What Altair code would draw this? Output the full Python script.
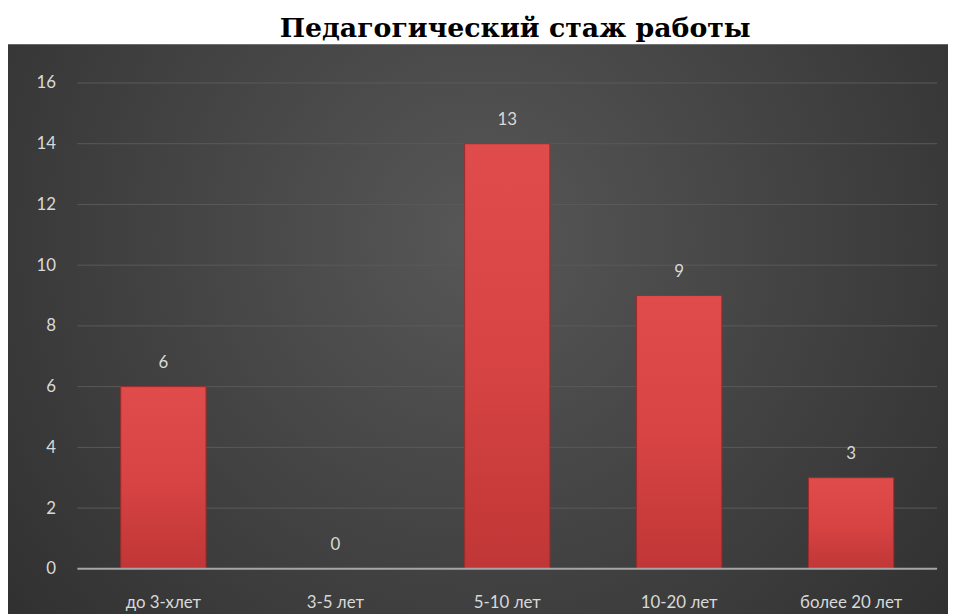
import altair as alt
import pandas as pd

categories = ["до 3-хлет", "3-5 лет", "5-10 лет", "10-20 лет", "более 20 лет"]
bar_values = [6, 0, 14, 9, 3]
label_texts = ["6", "0", "13", "9", "3"]
y_ticks = [0, 2, 4, 6, 8, 10, 12, 14, 16]
title_text = "Педагогический стаж работы"

df = pd.DataFrame({"cat": categories, "val": bar_values, "lbl": label_texts})
grid_df = pd.DataFrame({"t": y_ticks[1:]})

W, H = 867, 490
PL, PR, PT, PB = 70, 11, 73, 50

bg = alt.Chart(pd.DataFrame({"a": [0]})).mark_rect(
    clip=False,
    fill=alt.Gradient(
        gradient="radial",
        x1=0.5, y1=0.4, x2=0.5, y2=0.4, r1=0, r2=0.75,
        stops=[alt.GradientStop(color="#575757", offset=0),
               alt.GradientStop(color="#2a2a2a", offset=1)],
    ),
).encode(
    x=alt.value(-PL), x2=alt.value(W + PR),
    y=alt.value(-39), y2=alt.value(H + PB),
)

grid = alt.Chart(grid_df).mark_rule(color="#5a5a5a", strokeWidth=1).encode(
    y=alt.Y("t:Q", scale=alt.Scale(domain=[0, 16], nice=False))
)

xenc = alt.X("cat:N", sort=categories,
             scale=alt.Scale(paddingInner=0, paddingOuter=0),
             axis=alt.Axis(title=None, labelAngle=0, labelColor="#d9d9d9",
                           labelFont="Lato", labelFontSize=17, labelPadding=26,
                           ticks=False, domain=False, grid=False, zindex=1))
yenc = alt.Y("val:Q", scale=alt.Scale(domain=[0, 16], nice=False),
             axis=alt.Axis(title=None, values=y_ticks, labelColor="#d9d9d9",
                           labelFont="Lato", labelFontSize=17, labelPadding=22,
                           ticks=False, domain=False, grid=False, zindex=1))

bars = alt.Chart(df).mark_bar(
    size=86,
    fill=alt.Gradient(
        gradient="linear", x1=0, y1=0, x2=0, y2=1,
        stops=[alt.GradientStop(color="#e04c4c", offset=0),
               alt.GradientStop(color="#d84444", offset=0.5),
               alt.GradientStop(color="#c03636", offset=1)],
    ),
    stroke="#9e2c2c", strokeWidth=1,
).encode(x=xenc, y=yenc)

baseline = alt.Chart(pd.DataFrame({"z": [0]})).mark_rule(
    color="#a6a6a6", strokeWidth=2
).encode(y="z:Q")

labels = alt.Chart(df).mark_text(
    dy=-24, color="#d9d9d9", font="Lato", fontSize=17
).encode(x=alt.X("cat:N", sort=categories), y="val:Q", text="lbl:N")

chart = alt.layer(bg, grid, bars, baseline, labels).properties(
    width=W, height=H,
    autosize=alt.AutoSizeParams(type="none"),
    padding={"left": PL, "right": PR, "top": PT, "bottom": PB},
    title=alt.TitleParams(title_text, font="DejaVu Serif", fontSize=27,
                          fontWeight="bold", color="#000000", anchor="middle",
                          offset=1, dx=8),
    background="white",
).configure_view(stroke=None)

chart.save("out.html", embed_options={"renderer": "svg", "actions": False})
